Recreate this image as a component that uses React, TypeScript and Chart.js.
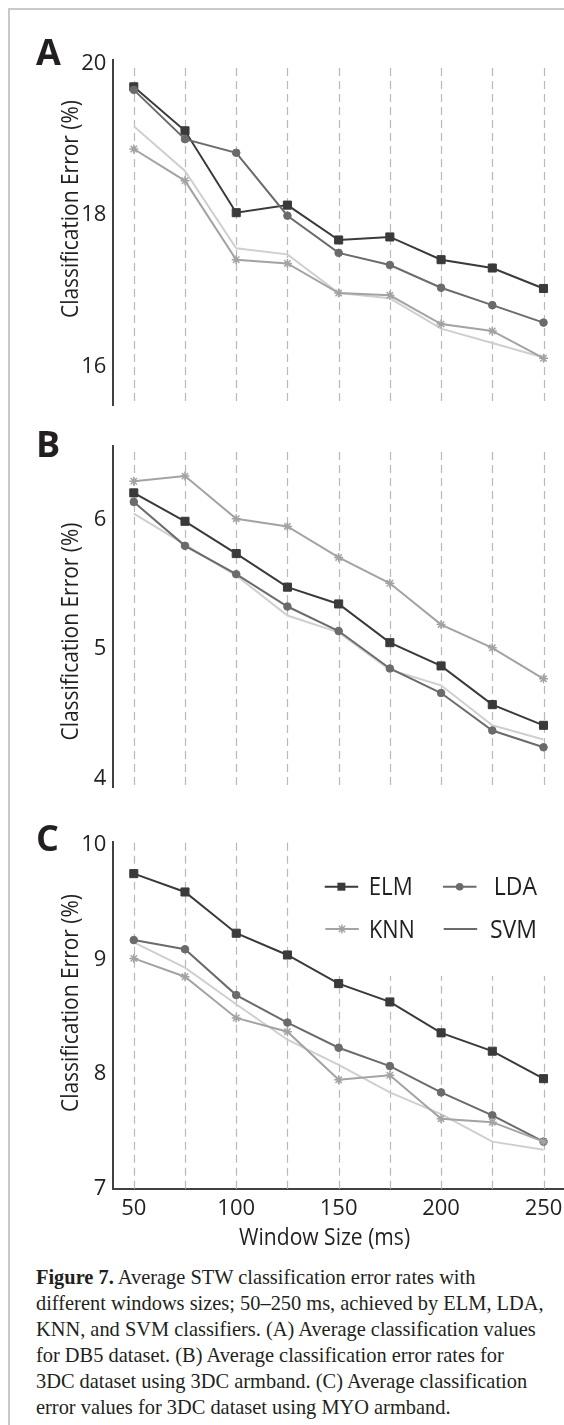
import React, { useEffect, useRef } from 'react';
import { Chart, registerables } from 'chart.js';

Chart.register(...registerables);

// ---------- data ----------
const windowSizes = [50, 75, 100, 125, 150, 175, 200, 225, 250];
const xTickLabels = ['50', '100', '150', '200', '250'];
const seriesNames = ['ELM', 'LDA', 'KNN', 'SVM'];

const elmA = [19.69, 19.11, 18.03, 18.13, 17.67, 17.71, 17.41, 17.3, 17.03];
const ldaA = [19.65, 19.0, 18.82, 17.99, 17.5, 17.34, 17.04, 16.81, 16.58];
const knnA = [18.87, 18.45, 17.41, 17.36, 16.97, 16.94, 16.56, 16.47, 16.11];
const svmA = [19.17, 18.58, 17.56, 17.48, 16.97, 16.9, 16.5, 16.31, 16.12];

const elmB = [6.21, 5.99, 5.74, 5.48, 5.35, 5.05, 4.87, 4.57, 4.41];
const ldaB = [6.14, 5.8, 5.58, 5.33, 5.14, 4.85, 4.66, 4.37, 4.24];
const knnB = [6.3, 6.34, 6.01, 5.95, 5.71, 5.51, 5.19, 5.01, 4.77];
const svmB = [6.05, 5.81, 5.57, 5.26, 5.13, 4.84, 4.72, 4.41, 4.3];

const elmC = [9.75, 9.59, 9.23, 9.04, 8.79, 8.63, 8.36, 8.2, 7.96];
const ldaC = [9.17, 9.09, 8.69, 8.45, 8.23, 8.07, 7.84, 7.64, 7.41];
const knnC = [9.01, 8.85, 8.49, 8.37, 7.95, 7.99, 7.61, 7.58, 7.41];
const svmC = [9.15, 8.93, 8.61, 8.3, 8.08, 7.84, 7.65, 7.41, 7.34];

const yTicksA = [16, 18, 20];
const yTicksB = [4, 5, 6];
const yTicksC = [7, 8, 9, 10];

const yTitle = 'Classification Error (%)';
const xTitle = 'Window Size (ms)';

// ---------- styles ----------
const SANS = '"Open Sans", "DejaVu Sans", sans-serif';
const TEXT = '#231f20';
const GRID = '#b9b9b9';
const AXIS = '#414141';
const COLORS = { ELM: '#3a3a3a', LDA: '#6b6b6b', KNN: '#a3a3a3', SVM: '#cfcfcf' };

type Panel = {
  letter: string;
  canvasTop: number;
  height: number;
  padTop: number;
  padBottom: number;
  yMin: number;
  yMax: number;
  yTicks: number[];
  elm: number[];
  lda: number[];
  knn: number[];
  svm: number[];
  showX: boolean;
  letterBaseline: number;
  titleCenterY: number;
  gridTopOffset: number;
  gridBottomOffset: number;
  legend: boolean;
};

const panels: Panel[] = [
  {
    letter: 'A', canvasTop: 0, height: 420, padTop: 60, padBottom: 15,
    yMin: 15.493, yMax: 20.044, yTicks: yTicksA,
    elm: elmA, lda: ldaA, knn: knnA, svm: svmA,
    showX: false, letterBaseline: 65, titleCenterY: 209,
    gridTopOffset: 8, gridBottomOffset: 2, legend: false,
  },
  {
    letter: 'B', canvasTop: 420, height: 385, padTop: 26, padBottom: 17.7,
    yMin: 3.93, yMax: 6.573, yTicks: yTicksB,
    elm: elmB, lda: ldaB, knn: knnB, svm: svmB,
    showX: false, letterBaseline: 457, titleCenterY: 631.5,
    gridTopOffset: 6, gridBottomOffset: 0.6, legend: false,
  },
  {
    letter: 'C', canvasTop: 805, height: 445, padTop: 36.7, padBottom: 0,
    yMin: 6.994, yMax: 10.029, yTicks: yTicksC,
    elm: elmC, lda: ldaC, knn: knnC, svm: svmC,
    showX: true, letterBaseline: 851, titleCenterY: 1003,
    gridTopOffset: 1, gridBottomOffset: 0, legend: true,
  },
];

function drawMarker(ctx: CanvasRenderingContext2D, style: string, x: number, y: number, color: string) {
  ctx.save();
  ctx.fillStyle = color;
  ctx.strokeStyle = color;
  if (style === 'rect') {
    ctx.fillRect(x - 4, y - 4, 8, 8);
  } else if (style === 'circle') {
    ctx.beginPath();
    ctx.arc(x, y, 3.8, 0, Math.PI * 2);
    ctx.fill();
  } else if (style === 'star') {
    ctx.lineWidth = 1.5;
    const r = 4.5;
    ctx.beginPath();
    for (let k = 0; k < 4; k++) {
      const a = (k * Math.PI) / 4;
      ctx.moveTo(x - r * Math.cos(a), y - r * Math.sin(a));
      ctx.lineTo(x + r * Math.cos(a), y + r * Math.sin(a));
    }
    ctx.stroke();
  }
  ctx.restore();
}

function decoPlugin(p: Panel) {
  return {
    id: 'deco' + p.letter,
    beforeDatasetsDraw(chart: any) {
      const { ctx, chartArea, scales } = chart;
      const x = scales.x;
      ctx.save();
      ctx.strokeStyle = GRID;
      ctx.lineWidth = 1.2;
      ctx.setLineDash([8, 5]);
      x.ticks.forEach((t: any) => {
        const px = Math.round(x.getPixelForValue(t.value)) + 0.5;
        ctx.beginPath();
        ctx.moveTo(px, chartArea.top + p.gridTopOffset);
        ctx.lineTo(px, chartArea.bottom - p.gridBottomOffset);
        ctx.stroke();
      });
      ctx.restore();
      if (p.legend) {
        ctx.save();
        ctx.fillStyle = '#ffffff';
        ctx.fillRect(300, 842 - p.canvasTop, 264, 134);
        ctx.restore();
      }
    },
    afterDraw(chart: any) {
      const ctx: CanvasRenderingContext2D = chart.ctx;
      const off = p.canvasTop;
      ctx.save();
      ctx.fillStyle = TEXT;
      // panel letter
      ctx.font = `bold 36px ${SANS}`;
      ctx.textAlign = 'left';
      ctx.textBaseline = 'alphabetic';
      ctx.fillText(p.letter, 36, p.letterBaseline - off);
      // y title
      ctx.save();
      ctx.font = `23px ${SANS}`;
      ctx.textAlign = 'center';
      ctx.textBaseline = 'alphabetic';
      ctx.translate(78, p.titleCenterY - off);
      ctx.rotate(-Math.PI / 2);
      ctx.fillText(yTitle, 0, 0, 218);
      ctx.restore();
      // x title
      if (p.showX) {
        ctx.font = `23px ${SANS}`;
        ctx.textAlign = 'center';
        ctx.fillText(xTitle, 324.6, 1244.7 - off, 171);
      }
      // legend
      if (p.legend) {
        const items = [
          { name: seriesNames[0], style: 'rect', color: COLORS.ELM, lx: 324.7, tx: 368.7, y: 886.7, base: 895, w: 44 },
          { name: seriesNames[1], style: 'circle', color: COLORS.LDA, lx: 443, tx: 493.7, y: 886.7, base: 895, w: 43.3 },
          { name: seriesNames[2], style: 'star', color: COLORS.KNN, lx: 325.3, tx: 369, y: 929, base: 937.7, w: 45.7 },
          { name: seriesNames[3], style: 'none', color: COLORS.LDA, lx: 443.7, tx: 490, y: 929, base: 937.7, w: 47 },
        ];
        items.forEach((it) => {
          ctx.save();
          ctx.strokeStyle = it.color;
          ctx.lineWidth = 2;
          ctx.beginPath();
          ctx.moveTo(it.lx, it.y - off);
          ctx.lineTo(it.lx + 33.5, it.y - off);
          ctx.stroke();
          ctx.restore();
          if (it.style !== 'none') drawMarker(ctx, it.style, it.lx + 16.7, it.y - off, it.color);
          ctx.font = `25px ${SANS}`;
          ctx.textAlign = 'left';
          ctx.fillStyle = TEXT;
          ctx.fillText(it.name, it.tx, it.base - off, it.w);
        });
      }
      ctx.restore();
    },
  };
}

function makeConfig(p: Panel): any {
  const ds = (label: string, values: number[], color: string, style: string | false, radius: number, order: number, pbw: number) => ({
    label,
    data: windowSizes.map((x, i) => ({ x, y: values[i] })),
    borderColor: color,
    backgroundColor: color,
    borderWidth: 2,
    pointStyle: style,
    pointRadius: radius,
    pointBackgroundColor: color,
    pointBorderColor: color,
    pointBorderWidth: pbw,
    tension: 0,
    order,
  });
  return {
    type: 'line',
    data: {
      datasets: [
        ds(seriesNames[0], p.elm, COLORS.ELM, 'rect', 5.7, 2, 1),
        ds(seriesNames[1], p.lda, COLORS.LDA, 'circle', 3.8, 1, 1),
        ds(seriesNames[2], p.knn, COLORS.KNN, 'star', 4.5, 0, 1.5),
        ds(seriesNames[3], p.svm, COLORS.SVM, false, 0, 3, 0),
      ],
    },
    options: {
      animation: false,
      responsive: false,
      maintainAspectRatio: false,
      layout: { autoPadding: false, padding: { top: p.padTop, bottom: p.padBottom, left: 0, right: 0 } },
      scales: {
        x: {
          type: 'linear',
          min: 40,
          max: 260,
          display: p.showX,
          afterBuildTicks: (s: any) => {
            s.ticks = windowSizes.map((v) => ({ value: v }));
          },
          afterFit: (s: any) => {
            s.height = p.showX ? 60.7 : 0;
            s.paddingLeft = 0;
            s.paddingRight = 0;
            s.paddingTop = 0;
            s.paddingBottom = 0;
          },
          ticks: {
            autoSkip: false,
            maxRotation: 0,
            padding: 6,
            color: TEXT,
            font: { family: SANS, size: 22 },
            callback: (v: any) => (xTickLabels.includes(String(v)) ? String(v) : ''),
          },
          grid: { display: false, drawTicks: false },
          border: { display: true, color: AXIS, width: 2 },
        },
        y: {
          type: 'linear',
          min: p.yMin,
          max: p.yMax,
          afterBuildTicks: (s: any) => {
            s.ticks = p.yTicks.map((v) => ({ value: v }));
          },
          afterFit: (s: any) => {
            s.width = 113.3;
            s.paddingLeft = 0;
            s.paddingRight = 0;
            s.paddingTop = 0;
            s.paddingBottom = 0;
          },
          ticks: {
            padding: 7,
            color: TEXT,
            font: { family: SANS, size: 22 },
            callback: (v: any) => String(v),
          },
          grid: { display: false, drawTicks: false },
          border: { display: true, color: AXIS, width: 2 },
        },
      },
      plugins: { legend: { display: false }, tooltip: { enabled: false } },
    },
    plugins: [decoPlugin(p)],
  };
}

function PanelChart({ p }: { p: Panel }) {
  const ref = useRef<HTMLCanvasElement>(null);
  useEffect(() => {
    const chart = new Chart(ref.current as HTMLCanvasElement, makeConfig(p));
    return () => chart.destroy();
  }, []);
  return (
    <canvas
      ref={ref}
      width={564}
      height={p.height}
      style={{ position: 'absolute', left: 0, top: p.canvasTop, width: 564, height: p.height }}
    />
  );
}

export default function App() {
  return (
    <div style={{ position: 'absolute', left: 0, top: 0, width: 564, height: 1425, overflow: 'hidden', background: '#fff' }}>
      <div
        style={{
          position: 'absolute', left: 8, top: 8, width: 556, height: 1417,
          borderLeft: '2px solid #c9c9c9', borderTop: '2px solid #c9c9c9', boxSizing: 'border-box',
        }}
      />
      {panels.map((p) => (
        <PanelChart key={p.letter} p={p} />
      ))}
      <div
        style={{
          position: 'absolute', left: 36, top: 1265, fontFamily: '"Liberation Serif", serif',
          fontSize: 20.4, lineHeight: '25.9px', color: TEXT, whiteSpace: 'nowrap',
        }}
      >
        <b>Figure 7.</b> Average STW classification error rates with<br />
        different windows sizes; 50–250 ms, achieved by ELM, LDA,<br />
        KNN, and SVM classifiers. (A) Average classification values<br />
        for DB5 dataset. (B) Average classification error rates for<br />
        3DC dataset using 3DC armband. (C) Average classification<br />
        error values for 3DC dataset using MYO armband.
      </div>
    </div>
  );
}
